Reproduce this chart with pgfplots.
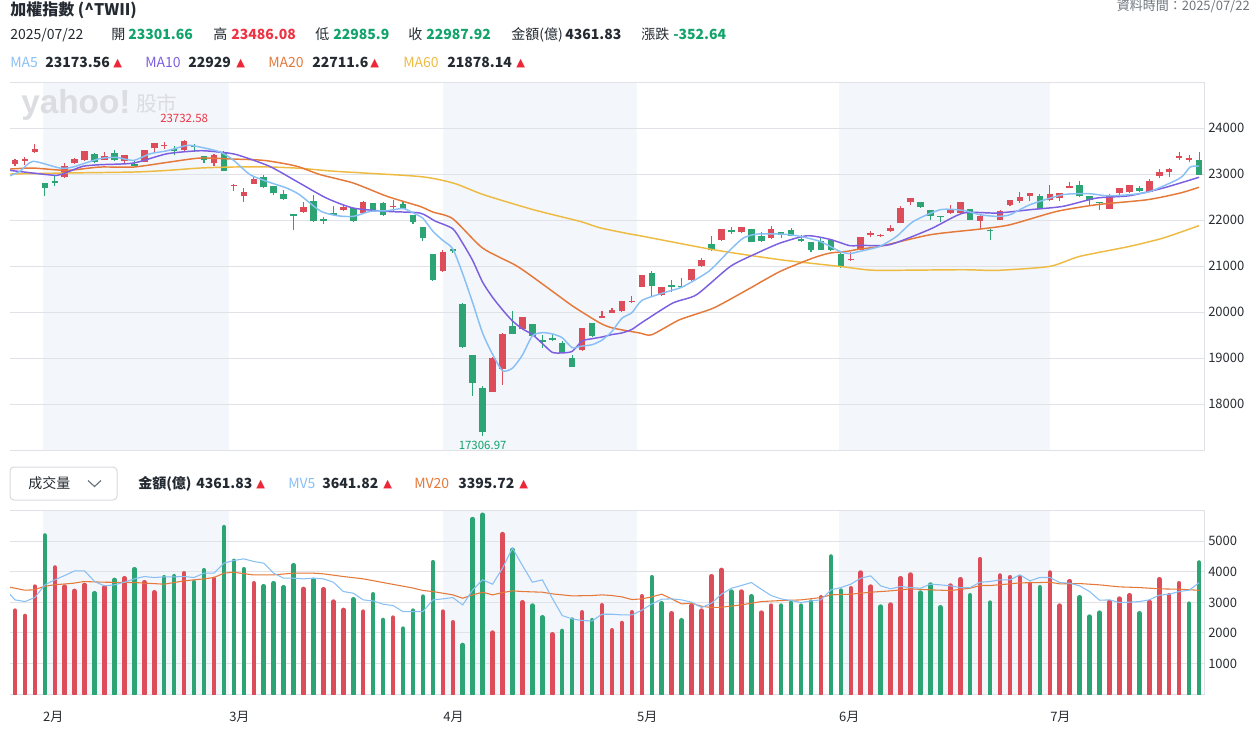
\documentclass[border=0pt]{standalone}
\usepackage{fontspec}
\usepackage{pgfplots}
\usepackage{pgfplotstable}
\pgfplotsset{compat=1.18}
\setmainfont{Noto Sans CJK TC}
\newfontfamily\symfont{DejaVu Sans}
\newfontfamily\logofont{Liberation Sans}

\definecolor{upc}{RGB}{220,77,89}
\definecolor{dnc}{RGB}{44,164,116}
\definecolor{bandc}{RGB}{243,246,250}
\definecolor{gridc}{RGB}{224,226,231}
\definecolor{txtc}{RGB}{35,42,49}
\definecolor{tickc}{RGB}{40,44,50}
\definecolor{grayc}{RGB}{110,118,125}
\definecolor{numg}{RGB}{16,163,106}
\definecolor{numr}{RGB}{238,52,68}
\definecolor{trc}{RGB}{236,40,56}
\definecolor{maA}{RGB}{136,192,245}
\definecolor{maB}{RGB}{123,95,224}
\definecolor{maC}{RGB}{228,121,58}
\definecolor{maD}{RGB}{238,187,66}
\definecolor{wmc}{RGB}{220,221,224}
\definecolor{boxc}{RGB}{214,217,222}

% daily bars: index, open, high, low, close, turnover (100M), turnover up(1)/down(0)
\pgfplotstableread{
i O H L C V d
0 23209 23332 23180 23296 2787 1
1 23282 23369 23195 23318 2612 1
2 23470 23659 23460 23550 3574 1
3 22803 22810 22514 22695 5246 0
4 22854 22948 22731 22803 4197 1
5 22927 23238 22920 23180 3574 1
6 23231 23347 23225 23332 3432 1
7 23296 23510 23274 23506 3628 1
8 23441 23456 23238 23253 3355 0
9 23304 23485 23300 23398 3552 1
10 23463 23528 23290 23296 3792 0
11 23274 23415 23224 23412 3847 1
12 23224 23289 23160 23166 4142 0
13 23260 23525 23255 23521 3716 1
14 23557 23685 23470 23680 3388 1
15 23601 23688 23543 23615 3880 0
16 23550 23601 23412 23499 3913 0
17 23521 23732.58 23485 23720 4011 1
18 23601 23651 23485 23579 3716 0
19 23398 23400 23238 23296 4109 0
20 23238 23441 23166 23420 3825 1
21 23463 23492 23060 23064 5519 0
22 22731 22775 22622 22767 4415 0
23 22514 22695 22383 22615 4142 0
24 22782 22948 22780 22890 3683 1
25 22934 22985 22700 22709 3585 0
26 22731 22740 22550 22579 3683 0
27 22571 22659 22427 22463 3552 0
28 22130 22135 21774 22079 4273 0
29 22166 22398 22160 22282 3497 1
30 22419 22535 21965 21970 3792 0
31 22006 22064 21905 21977 3486 1
32 22159 22311 22100 22108 3082 1
33 22209 22333 22205 22282 2809 1
34 22253 22260 21948 21970 3158 0
35 22151 22405 22145 22398 2754 1
36 22376 22380 22195 22202 3322 0
37 22376 22390 22080 22101 2481 0
38 22275 22427 22188 22289 2557 1
39 22354 22420 22240 22246 2197 0
40 22108 22115 21920 21948 2787 0
41 21847 21850 21535 21601 3246 0
42 21267 21270 20680 20694 4372 0
43 20883 21340 20875 21298 2754 1
44 21340 21390 21290 21320 2404 1
45 20180 20190 19220 19232 1661 0
46 19071 19075 18180 18460 5782 0
47 18347 18383 17306.97 17391.76 5924 0
48 18253 19021 18253 19000 2066 1
49 18767 19545 18419 19528.77 5290 1
50 19702 20028 19515 19521 4776 0
51 19629 19890 19625 19883 3060 1
52 19738 19745 19470 19477 2951 0
53 19390 19492 19216 19340 2568 0
54 19441 19521 19380 19397 2011 1
55 19325 19376 19100 19108 2120 0
56 18999 19057 18795 18803 2492 0
57 19166 19660 19160 19651 2732 1
58 19760 19765 19448 19485 2470 0
59 19869 20028 19865 19905 2962 1
60 19977 20086 19970 20050 2142 1
61 20014 20250 20010 20235 2382 1
62 20209 20340 20205 20250 2732 1
63 20543 20815 20540 20811 3257 1
64 20854 20897 20339 20560 3880 0
65 20361 20550 20355 20542 3027 0
66 20586 20702 20434 20550 2699 1
67 20571 20738 20530 20535 2470 0
68 20687 20945 20665 20941 2951 1
69 20992 21173 20985 21137 2787 1
70 21484 21644 21335 21339 3913 1
71 21557 21815 21550 21811 4120 1
72 21789 21840 21695 21731 3410 0
73 21731 21850 21709 21847 3410 1
74 21811 21815 21513 21520 3257 0
75 21658 21738 21530 21540 2721 1
76 21600 21876 21595 21811 2951 1
77 21738 21745 21600 21680 2951 0
78 21789 21818 21650 21658 3049 0
79 21593 21680 21530 21535 2951 0
80 21513 21520 21311 21339 3082 0
81 21535 21629 21345 21354 3224 1
82 21557 21565 21330 21339 4558 0
83 21267 21275 20956 21006 3443 0
84 21122 21303 21115 21137 3519 1
85 21354 21635 21350 21629 4033 1
86 21673 21753 21629 21716 3574 1
87 21644 21702 21629 21673 2918 0
88 21767 21883 21738 21825 2984 1
89 21934 22311 21930 22267 3847 1
90 22383 22485 22318 22477 3967 1
91 22383 22400 22270 22282 3377 0
92 22216 22225 21992 22079 3639 0
93 22079 22085 21948 22057 2896 0
94 22151 22332 22140 22224 3607 1
95 22151 22390 22140 22383 3814 1
96 22238 22245 21990 22006 3290 0
97 21985 22100 21811 22079 4470 1
98 21789 21800 21557 21753 3049 0
99 22006 22210 22000 22202 3935 1
100 22332 22445 22296 22441 3880 1
101 22419 22600 22369 22506 3880 1
102 22513 22590 22405 22586 3661 1
103 22513 22571 22230 22238 3552 0
104 22427 22767 22405 22571 4033 1
105 22477 22590 22405 22586 2951 1
106 22702 22825 22700 22716 3749 1
107 22767 22854 22505 22513 3224 0
108 22513 22520 22332 22427 2590 0
109 22390 22395 22209 22361 2721 0
110 22245 22555 22230 22550 3071 1
111 22586 22700 22550 22695 3180 1
112 22600 22770 22595 22767 3290 1
113 22695 22731 22600 22622 2699 0
114 22608 22890 22600 22840 3071 1
115 22963 23108 22912 23042 3814 1
116 23035 23130 22934 23115 3290 1
117 23347 23470 23296 23398 3683 1
118 23311 23405 23253 23340.56 3016 0
119 23301.66 23486.08 22985.9 22987.92 4361.83 0
}\ohlc

\pgfplotsset{
  panel/.style={
    scale only axis, width=895.5pt, xmin=-0.5, xmax=119.5,
    axis line style={draw=none}, tick style={draw=none}, major tick length=0pt,
    clip mode=individual, scaled y ticks=false, scaled x ticks=false,
    yticklabel pos=right,
    yticklabel style={anchor=west, inner sep=0pt, xshift=3pt,
      font=\fontsize{9.75}{11}\selectfont, text=tickc},
  },
  stick/.style={draw=none, mark=none, forget plot,
    error bars/.cd, y dir=plus, y explicit, error mark=none,
    error bar style={#1}},
}

\begin{document}
\begin{tikzpicture}
\path[use as bounding box] (0,0) rectangle (945pt,-553.5pt);

% ---------------- price panel ----------------
\begin{axis}[panel,
  at={(7.5pt,-337.5pt)}, anchor=south west, height=276pt,
  ymin=17000, ymax=25000, xtick=\empty,
  ytick={18000,19000,20000,21000,22000,23000,24000},
  yticklabels={18000,19000,20000,21000,22000,23000,24000},
]
\fill[bandc] (axis cs:2.81,17000) rectangle (axis cs:21.51,25000);
\fill[bandc] (axis cs:43.02,17000) rectangle (axis cs:62.51,25000);
\fill[bandc] (axis cs:82.81,17000) rectangle (axis cs:104.02,25000);
\pgfplotsinvokeforeach{18000,19000,20000,21000,22000,23000,24000}{
  \draw[gridc, line width=0.75pt] (axis cs:-0.5,#1) -- (axis cs:119.5,#1);}
\draw[gridc, line width=0.75pt] (rel axis cs:0,1) -- (rel axis cs:1,1) -- (rel axis cs:1,0) -- (rel axis cs:0,0);

% wicks
\addplot[restrict expr to domain={\thisrow{C}-\thisrow{O}}{0:100000},
  stick={draw=upc, line width=0.8pt}]
  table[x=i, y=L, y error plus expr=\thisrow{H}-\thisrow{L}] {\ohlc};
\addplot[restrict expr to domain={\thisrow{O}-\thisrow{C}}{0.001:100000},
  stick={draw=dnc, line width=0.8pt}]
  table[x=i, y=L, y error plus expr=\thisrow{H}-\thisrow{L}] {\ohlc};
% bodies
\addplot[restrict expr to domain={\thisrow{C}-\thisrow{O}}{0:100000},
  stick={draw=upc, line width=4.9pt}]
  table[x=i, y=O, y error plus expr={max(\thisrow{C}-\thisrow{O},40)}] {\ohlc};
\addplot[restrict expr to domain={\thisrow{O}-\thisrow{C}}{0.001:100000},
  stick={draw=dnc, line width=4.9pt}]
  table[x=i, y=C, y error plus expr={max(\thisrow{O}-\thisrow{C},40)}] {\ohlc};

% MA60
\addplot[maD, line width=1.1pt, smooth, tension=0.4] coordinates {
(-0.5,23000) (5.2,23022) (11.9,23043) (15.3,23078) (18.6,23130) (21.9,23152)
(25.6,23152) (28.6,23125) (32.3,23057) (40.7,22945) (44.1,22800) (47.1,22550)
(52.1,22224) (56.8,21969) (58.8,21830) (61.8,21696) (62.8,21659) (70.2,21354)
(76.9,21137) (82.9,20991) (84.9,20935) (86.9,20905) (95.3,20919) (98.7,20905)
(104,20992) (107,21209) (112,21426) (115.4,21608) (119,21878.14)};
% MA20
\addplot[maC, line width=1.1pt, smooth, tension=0.4] coordinates {
(-0.5,23108) (1.8,23130) (5.2,23079) (8.5,23151) (11.9,23151) (15.3,23253)
(18.6,23347) (21.9,23325) (24,23311) (25.3,23289) (27.3,23217) (28.6,23151)
(30.7,22985) (34,22804) (37.4,22514) (40.7,22296) (42,22173) (44,22028)
(47,21390) (50.5,20992) (53.8,20484) (56.1,20122) (58.8,19760) (60.1,19651)
(62.8,19543) (64,19506) (66.8,19832) (70.2,20086) (73.6,20484) (76.9,20883)
(80.2,21173) (81.9,21281) (83.6,21318) (84.9,21369) (86.9,21426) (92,21680)
(97,21803) (100,21897) (104.7,22187) (108.7,22332) (113.8,22441) (117.1,22586)
(119,22711.6)};
% MA10
\addplot[maB, line width=1.1pt, smooth, tension=0.4] coordinates {
(-0.5,23079) (1.8,23021) (4.2,22970) (5.2,23035) (6.8,23166) (8.5,23202)
(11.9,23238) (15.3,23441) (18.6,23506) (20.6,23475) (22.3,23420) (25.6,23166)
(28.6,22803) (31.3,22477) (34,22260) (37.4,22187) (40.7,22151) (42.2,21980)
(44,21810) (45,21493) (46,21119) (47,20648) (48,20319) (49,20047) (50,19805)
(51,19633) (52,19511) (53,19315) (54,19123) (55,19111) (56,19145) (57,19371)
(58,19419) (59,19457) (60,19510) (61,19545) (62,19622) (63,19770) (66.1,20194)
(68.5,20376) (71.9,20992) (74.6,21282) (76.9,21499) (79.6,21658) (81.9,21580)
(83.9,21441) (84.9,21450) (87.9,21463) (92,21803) (95.3,22151) (98.7,22151)
(102,22224) (105.3,22296) (108.7,22477) (112,22528) (115.4,22695) (119,22929)};
% MA5
\addplot[maA, line width=1.1pt, smooth, tension=0.4] coordinates {
(-0.5,22963) (0.5,23057) (1.8,23275) (4.5,23130) (5.8,23151) (8.5,23333)
(10.2,23361) (11.9,23296) (13.6,23441) (15.3,23506) (17.3,23622) (18.6,23586)
(20.6,23480) (21.9,23311) (23.6,22990) (25.3,22840) (27.3,22695) (28.6,22550)
(30.7,22195) (32.4,22093) (34,22079) (35.7,22187) (37.4,22202) (39,22250)
(40,22157) (41,22037) (42,21756) (43,21557) (44,21372) (45,20829) (46,20201)
(47,19540) (48,19081) (49,18723) (50,18780) (51,19065) (52,19482) (53,19550)
(54,19524) (55,19441) (56,19225) (57,19260) (58,19289) (59,19390) (60,19579)
(61,19865) (62,19985) (63,20250) (65.1,20412) (66.8,20521) (67.8,20629)
(69.8,20897) (71.9,21354) (73.2,21608) (74.6,21695) (76.9,21695) (78.6,21658)
(80.9,21535) (82.9,21318) (83.9,21270) (84.9,21318) (86.9,21426) (88.6,21644)
(90.3,21970) (93,22224) (95.3,22209) (97,22115) (98.7,22079) (100,22115)
(102,22332) (105.3,22550) (108,22571) (109.7,22528) (112,22550) (114.1,22622)
(117.1,22912) (118.1,23150) (119,23173.56)};

\node[text=numr, font=\fontsize{8.6}{10}\selectfont, yshift=16.2pt] at (axis cs:17,23732.58) {23732.58};
\node[text=numg, font=\fontsize{8.6}{10}\selectfont, yshift=-7.1pt] at (axis cs:47,17306.97) {17306.97};
\end{axis}

% ---------------- turnover panel ----------------
\begin{axis}[panel,
  at={(7.5pt,-520.5pt)}, anchor=south west, height=138pt,
  ymin=0, ymax=6025,
  ytick={1000,2000,3000,4000,5000},
  yticklabels={1000,2000,3000,4000,5000},
  xtick={2.81,21.51,43.02,62.51,82.81,104.02},
  xticklabels={2月,3月,4月,5月,6月,7月},
  xticklabel style={anchor=west, inner sep=0pt, yshift=-17.25pt,
    font=\fontsize{9.75}{11}\selectfont, text=tickc},
]
\fill[bandc] (axis cs:2.81,0) rectangle (axis cs:21.51,6025);
\fill[bandc] (axis cs:43.02,0) rectangle (axis cs:62.51,6025);
\fill[bandc] (axis cs:82.81,0) rectangle (axis cs:104.02,6025);
\pgfplotsinvokeforeach{1000,2000,3000,4000,5000}{
  \draw[gridc, line width=0.75pt] (axis cs:-0.5,#1) -- (axis cs:119.5,#1);}
\draw[gridc, line width=0.75pt] (rel axis cs:0,1) -- (rel axis cs:1,1) -- (rel axis cs:1,0) -- (rel axis cs:0,0);

\addplot[restrict expr to domain={\thisrow{d}}{0.5:1.5},
  stick={draw=upc, line width=3.4pt, line cap=round}]
  table[x=i, y expr=0, y error plus expr=\thisrow{V}-55] {\ohlc};
\addplot[restrict expr to domain={\thisrow{d}}{-0.5:0.5},
  stick={draw=dnc, line width=3.4pt, line cap=round}]
  table[x=i, y expr=0, y error plus expr=\thisrow{V}-55] {\ohlc};

% MV20
\addplot[maC, line width=0.8pt] coordinates {
(-0.5,3497) (1,3399) (1.9,3410) (2.9,3519) (3.9,3574) (5.9,3628) (6.9,3683)
(8.9,3661) (12,3650) (15,3596) (17,3705) (19,3771) (20,3814) (21,3956)
(21.9,3989) (23.9,3902) (26,3902) (28,3956) (30,3956) (31,3935) (33,3847)
(35,3771) (37,3650) (39,3530) (40,3470) (41,3390) (42,3355) (43,3301)
(44,3246) (45,3137) (46,3246) (47,3333) (48,3246) (49,3322) (50,3377)
(51,3355) (53,3333) (54,3279) (56,3213) (58,3224) (59,3246) (60,3224)
(61,3180) (62,3093) (63,3115) (64,3180) (65,3268) (66,3115) (67,2951)
(68,2973) (69,2874) (70,2831) (71,2841) (73,2918) (75,3027) (77,3060)
(79,3082) (81,3158) (82,3246) (84,3268) (86,3333) (88,3377) (90,3443)
(92,3410) (94,3388) (96,3464) (97,3552) (98,3552) (100,3607) (101,3639)
(103,3650) (104,3661) (105,3607) (107,3617) (109,3574) (111,3508) (113,3486)
(115,3443) (117,3432) (119,3395.72)};
% MV5
\addplot[maA, line width=0.8pt] coordinates {
(-0.5,3268) (0,3082) (1,3027) (2,3158) (3,3574) (4,3738) (5,3880) (6,4033)
(7,4033) (8,3683) (9,3541) (10,3574) (11,3661) (12,3771) (13,3847) (14,3814)
(15,3836) (16,3836) (17,3847) (18,3814) (19,3956) (20,3956) (21,4284)
(22,4372) (23,4426) (24,4339) (25,4284) (26,3956) (27,3792) (28,3792)
(29,3771) (30,3792) (31,3771) (32,3661) (33,3355) (34,3301) (35,3082)
(36,3049) (37,2940) (38,2896) (39,2699) (40,2699) (41,2699) (42,3082)
(43,3115) (44,3158) (45,2918) (46,3410) (47,3738) (48,3596) (49,4120)
(50,4776) (51,4208) (52,3661) (53,3738) (54,3136) (55,2568) (56,2459)
(57,2404) (58,2393) (59,2612) (60,2612) (61,2590) (62,2590) (63,2743)
(64,2951) (65,3104) (66,3115) (67,3082) (68,3006) (69,2831) (70,2973)
(71,3268) (72,3464) (73,3552) (74,3650) (75,3432) (76,3224) (77,3115)
(78,3060) (79,2995) (80,3049) (81,3082) (82,3410) (83,3486) (84,3596)
(85,3792) (86,3869) (87,3541) (88,3443) (89,3519) (90,3486) (91,3464)
(92,3596) (93,3574) (94,3541) (95,3486) (96,3486) (97,3661) (98,3683)
(99,3738) (100,3738) (101,3902) (102,3705) (103,3814) (104,3814) (105,3650)
(106,3628) (107,3541) (108,3355) (109,3071) (110,3082) (111,2995)
(112,3006) (113,3027) (114,3082) (115,3235) (116,3268) (117,3355)
(118,3399) (119,3641.82)};
\end{axis}

% ---------------- header and labels ----------------
\begin{scope}[x=0.75pt, y=-0.75pt, every node/.style={inner sep=0pt, anchor=base west}]
\node[font=\fontsize{12}{14}\selectfont\bfseries, text=txtc] at (10,16) {加權指數 (\textasciicircum TWII)};
\node[anchor=base east, font=\fontsize{9.75}{11}\selectfont, text=grayc] at (1250,11) {資料時間：2025/07/22};

\begin{scope}[every node/.append style={font=\fontsize{10.5}{12}\selectfont, text=txtc}]
\node at (10,40) {2025/07/22};
\node at (111,40) {開};
\node[text=numg, font=\fontsize{10.5}{12}\selectfont\bfseries] at (128,40) {23301.66};
\node at (213,40) {高};
\node[text=numr, font=\fontsize{10.5}{12}\selectfont\bfseries] at (231,40) {23486.08};
\node at (315,40) {低};
\node[text=numg, font=\fontsize{10.5}{12}\selectfont\bfseries] at (333,40) {22985.9};
\node at (408,40) {收};
\node[text=numg, font=\fontsize{10.5}{12}\selectfont\bfseries] at (426,40) {22987.92};
\node at (511,40) {金額(億)};
\node[font=\fontsize{10.5}{12}\selectfont\bfseries] at (565,40) {4361.83};
\node at (641,40) {漲跌};
\node[text=numg, font=\fontsize{10.5}{12}\selectfont\bfseries] at (673,40) {-352.64};

\node[text=maA] at (10,68) {MA5};
\node[font=\fontsize{10.5}{12}\selectfont\bfseries] at (45,68) {23173.56};
\node[text=maB] at (145,68) {MA10};
\node[font=\fontsize{10.5}{12}\selectfont\bfseries] at (188,68) {22929};
\node[text=maC] at (268,68) {MA20};
\node[font=\fontsize{10.5}{12}\selectfont\bfseries] at (312,68) {22711.6};
\node[text=maD] at (403,68) {MA60};
\node[font=\fontsize{10.5}{12}\selectfont\bfseries] at (447,68) {21878.14};
\node[text=trc, font=\symfont\fontsize{8.5}{10}\selectfont] at (113,67) {▲};
\node[text=trc, font=\symfont\fontsize{8.5}{10}\selectfont] at (236,67) {▲};
\node[text=trc, font=\symfont\fontsize{8.5}{10}\selectfont] at (370,67) {▲};
\node[text=trc, font=\symfont\fontsize{8.5}{10}\selectfont] at (516,67) {▲};

% turnover header
\draw[boxc, line width=0.75pt, rounded corners=3pt] (10,467) rectangle (117,500);
\node at (28,488.5) {成交量};
\draw[grayc, line width=0.9pt] (88,480.5) -- (94.5,486.5) -- (101,480.5);
\node[font=\fontsize{10.5}{12}\selectfont\bfseries] at (138,488.5) {金額(億)};
\node[font=\fontsize{10.5}{12}\selectfont\bfseries] at (196,488.5) {4361.83};
\node[text=maA] at (288,488.5) {MV5};
\node[font=\fontsize{10.5}{12}\selectfont\bfseries] at (322,488.5) {3641.82};
\node[text=maC] at (414,488.5) {MV20};
\node[font=\fontsize{10.5}{12}\selectfont\bfseries] at (458,488.5) {3395.72};
\node[text=trc, font=\symfont\fontsize{8.5}{10}\selectfont] at (256,487.5) {▲};
\node[text=trc, font=\symfont\fontsize{8.5}{10}\selectfont] at (383,487.5) {▲};
\node[text=trc, font=\symfont\fontsize{8.5}{10}\selectfont] at (519,487.5) {▲};
\end{scope}

% watermark
\node[font=\logofont\bfseries\fontsize{25}{27}\selectfont, text=wmc] at (21,114) {yahoo!};
\node[font=\fontsize{15.5}{17}\selectfont, text=wmc] at (136,112) {股市};
\end{scope}
\end{tikzpicture}
\end{document}
